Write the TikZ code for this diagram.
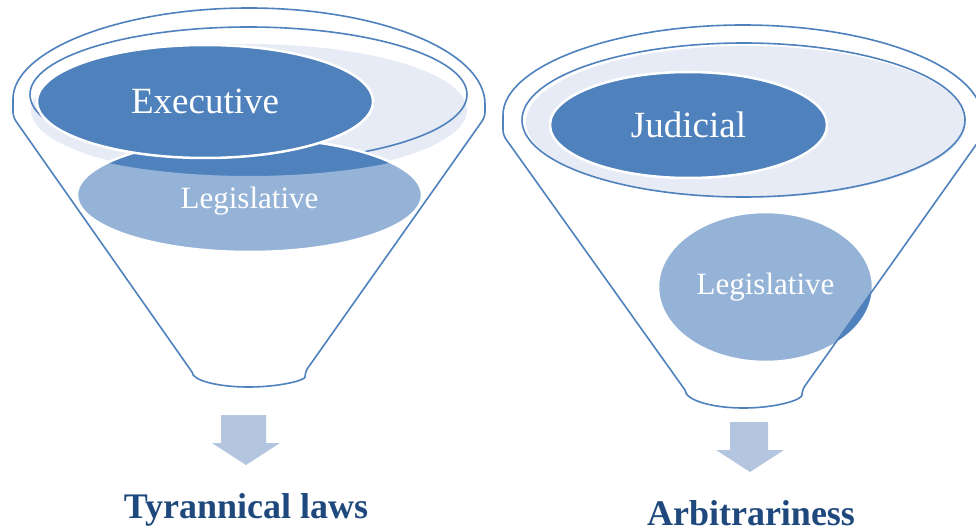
\documentclass[tikz,border=0pt]{standalone}
\usepackage{fontspec}
\setmainfont{Liberation Serif}
\usetikzlibrary{shapes.geometric}
\definecolor{branchblue}{RGB}{79,129,189}
\definecolor{rimfill}{RGB}{230,235,245}
\definecolor{arrowfill}{RGB}{180,197,224}
\definecolor{resultblue}{RGB}{31,73,125}
\tikzset{%
    branch/.style={ellipse,fill=branchblue,draw=white,line width=2.5pt,inner sep=0pt,text=white},
    bigtxt/.style={font=\fontsize{37}{42}\selectfont},
    smalltxt/.style={font=\fontsize{31}{36}\selectfont},
    rim/.style={draw=branchblue,line width=1.6pt},
    glass/.style={fill=white,opacity=.4},
    result/.style={font=\bfseries\fontsize{36}{40}\selectfont,text=resultblue,anchor=base},
    downarr/.style={fill=arrowfill}
}

\begin{document}
\begin{tikzpicture}[x=1pt,y=1pt]
\useasboundingbox (0,0) rectangle (976,531);
%%%%% left funnel
\fill[rimfill] (249,421) ellipse [x radius=218,y radius=66];
\draw[rim] (248.5,436.5) ellipse [x radius=218.5,y radius=67.5];
\node[branch,smalltxt,minimum width=345,minimum height=114,text height=26pt,text depth=0pt] (legL) at (249.5,336) {Legislative};
\begin{scope}
  \clip (192,159) -- (13,414) -- (13,427) arc[start angle=180,end angle=0,x radius=236,y radius=96]
    -- (485,414) -- (305,159) arc[start angle=0,end angle=-180,x radius=56.5,y radius=15] -- cycle;
  \fill[glass] (13,421) arc[start angle=180,end angle=360,x radius=236,y radius=66]
    -- (485,100) -- (13,100) -- cycle;
\end{scope}
\node[branch,bigtxt,minimum width=336,minimum height=113] (exec) at (205,429.5) {Executive};
\draw[rim] (192,159) [rounded corners=5pt] -- (13,414) -- (13,427) [sharp corners]
  arc[start angle=180,end angle=0,x radius=236,y radius=96] [rounded corners=5pt] -- (485,414) -- (305,159) [sharp corners]
  arc[start angle=0,end angle=-180,x radius=56.5,y radius=15];
\fill[downarr] (221,116) -- (266,116) -- (266,88) -- (280,88) -- (246,66) -- (212,88) -- (221,88) -- cycle;
\node[result] (resL) at (246,13) {Tyrannical laws};
%%%%% right funnel
\fill[rimfill] (746,409) ellipse [x radius=220,y radius=76];
\draw[rim] (743.5,411) ellipse [x radius=221.5,y radius=77];
\node[branch,bigtxt,minimum width=277,minimum height=106] (jud) at (688.5,406) {Judicial};
\node[branch,smalltxt,minimum width=215,minimum height=150] (legR) at (765.5,244) {Legislative};
\begin{scope}
  \clip (685,141) -- (503,396) -- (503,411) arc[start angle=180,end angle=0,x radius=240,y radius=95]
    -- (983,396) -- (802,141) arc[start angle=0,end angle=-180,x radius=58.5,y radius=18] -- cycle;
  \fill[glass] (503,409) arc[start angle=180,end angle=360,x radius=240,y radius=77]
    -- (983,100) -- (503,100) -- cycle;
\end{scope}
\draw[rim] (685,141) [rounded corners=5pt] -- (503,396) -- (503,411) [sharp corners]
  arc[start angle=180,end angle=0,x radius=240,y radius=95] [rounded corners=5pt] -- (983,396) -- (802,141) [sharp corners]
  arc[start angle=0,end angle=-180,x radius=58.5,y radius=18];
\fill[downarr] (730,109) -- (768,109) -- (768,81) -- (784,81) -- (750,59) -- (716,81) -- (730,81) -- cycle;
\node[result] (resR) at (751,6) {Arbitrariness};
\end{tikzpicture}
\end{document}
